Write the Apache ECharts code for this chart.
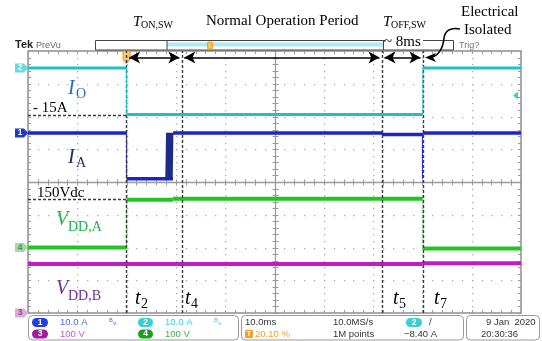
<!DOCTYPE html>
<html><head><meta charset="utf-8">
<script src="https://cdn.jsdelivr.net/npm/echarts@6/dist/echarts.min.js"></script>
<style>html,body{margin:0;padding:0;background:#fff}#c{width:542px;height:341px}</style>
</head><body><div id="c"></div>
<script>
// ---------------- DATA ----------------
// time axis in ms (10 ms/div, trigger at 20.10 % of record -> t = 0)
const timeTicks = [-20, -10, 0, 10, 20, 30, 40, 50, 60, 70, 80];
const divTicks = [-4, -3, -2, -1, 0, 1, 2, 3, 4];
// event instants (ms)
const eventNames = ['t2', 't4', 't5', 't7'];
const eventTimes = [0, 11.2, 51.8, 60.1];
// Channel 2: I_O (A) - level changes at edges
const ioEdges = [0, 60.1];
const ioLevels = [0, -14.2, 0];
// Channel 1: I_A (A)
const iaEdges = [0, 9.4, 51.8, 60.1];
const iaLevels = [0, -14.0, 0, -0.5, 0];
const iaRingTimes = [8.0, 8.15, 8.3, 8.45, 8.6, 8.75, 8.9, 9.05, 9.2, 9.35];
const iaRingValues = [-14, 0, -14, 0, -14, 0, -14, 0, -14, 0];
const iaSpikeTimes = [60.0];
const iaSpikeValues = [-14];
// Channel 4: V_DD,A (V)
const vdaEdges = [0, 9.4, 60.1];
const vdaLevels = [0, 146, 149, -3];
// Channel 3: V_DD,B (V)
const vdbEdges = [60.1];
const vdbLevels = [150, 152];
// reference levels marked with dashed lines
const ioRefLevel = -14.5;   // "- 15A"
const vdaRefLevel = 146;    // "150Vdc"

// ---------------- scope settings ----------------
const SCALE = {ch1: 10, ch2: 10, ch3: 100, ch4: 100};   // units / div
const GROUND = {ch1: 1.5, ch2: 3.48, ch3: -4, ch4: -2}; // div
const X0 = timeTicks[0], X1 = timeTicks[timeTicks.length - 1];
function dv(ch, v) { return GROUND[ch] + v / SCALE[ch]; }
function horiz(ch, edges, levels) {
  const out = [];
  for (let i = 0; i < levels.length; i++) {
    const a = i === 0 ? X0 : edges[i - 1];
    const b = i === edges.length ? X1 : edges[i];
    out.push({coords: [[a, dv(ch, levels[i])], [b, dv(ch, levels[i])]]});
  }
  return out;
}
function verts(ch, edges, levels) {
  return edges.map((t, i) => ({coords: [[t, dv(ch, levels[i])], [t, dv(ch, levels[i + 1])]]}));
}

const C_CYAN = '#1fc0c6', C_BLUE = '#1a24c8', C_GREEN = '#22c422', C_MAG = '#c01cc0';

function traceSeries(data, color, w, z) {
  return {type: 'lines', coordinateSystem: 'cartesian2d', polyline: true, silent: true, z: z || 3,
    lineStyle: {color: color, width: w, opacity: 1}, data: data, animation: false};
}

const chart = echarts.init(document.getElementById('c'));

const dash = {color: '#3a3a3a', width: 1.4, type: [3, 2]};
const markLines = [];
eventTimes.forEach(t => markLines.push({xAxis: t, lineStyle: dash}));
markLines.push([{coord: [X0, dv('ch2', ioRefLevel)], lineStyle: dash}, {coord: [eventTimes[0], dv('ch2', ioRefLevel)]}]);
markLines.push([{coord: [X0, dv('ch4', vdaRefLevel)], lineStyle: dash}, {coord: [eventTimes[0], dv('ch4', vdaRefLevel)]}]);
const arrowY = 3.8;
const arrowStyle = {color: '#000', width: 1.5, type: 'solid'};
[[eventTimes[0], eventTimes[1]], [eventTimes[1], eventTimes[2]], [eventTimes[2], eventTimes[3]]].forEach(p => {
  markLines.push([{coord: [p[0] + 0.5, arrowY], lineStyle: arrowStyle, symbol: 'arrow'}, {coord: [p[1] - 0.5, arrowY], symbol: 'arrow'}]);
});

const serifI = 'italic 20px "Liberation Serif", "DejaVu Serif", serif';
const serifSub = '14px "Liberation Serif", "DejaVu Serif", serif';
const serif15 = '15px "Liberation Serif", "DejaVu Serif", serif';
const serifT = 'italic 15px "Liberation Serif", serif';
const serifSub10 = '10px "Liberation Serif", serif';
const ui = '9.5px "Liberation Sans", "DejaVu Sans", sans-serif';

function txt(x, y, s, font, fill, align) {
  return {type: 'text', x: x, y: y, z: 20, silent: true,
    style: {text: s, font: font, fill: fill, align: align || 'left', verticalAlign: 'middle',
      textAlign: align || 'left', textVerticalAlign: 'middle'}};
}
function pill(x, y, w, fill, s) {
  return [{type: 'rect', z: 20, silent: true, shape: {x: x, y: y - 4.5, width: w, height: 9, r: 4.5}, style: {fill: fill}},
    txt(x + w / 2, y, s, 'bold 8.5px "Liberation Sans", sans-serif', '#fff', 'center')];
}
function box(x, y, w, h) {
  return {type: 'rect', z: 19, silent: true, shape: {x: x, y: y, width: w, height: h, r: 4}, style: {fill: '#fff', stroke: '#9a9a9a', lineWidth: 1}};
}
function bez(x1, y1, c1x, c1y, c2x, c2y, x2, y2) {
  return {type: 'bezierCurve', z: 20, silent: true,
    shape: {x1: x1, y1: y1, cpx1: c1x, cpy1: c1y, cpx2: c2x, cpy2: c2y, x2: x2, y2: y2},
    style: {fill: null, stroke: '#000', lineWidth: 1.6}};
}

const graphics = [
  // top bar
  txt(15, 45, 'Tek', 'bold 11px "Liberation Sans", sans-serif', '#222'),
  txt(36, 45.5, 'PreVu', '9px "Liberation Sans", sans-serif', '#666'),
  {type: 'rect', z: 10, silent: true, shape: {x: 95.5, y: 40.5, width: 358, height: 9.5}, style: {fill: '#fff', stroke: '#444', lineWidth: 1}},
  {type: 'rect', z: 11, silent: true, shape: {x: 167, y: 42.5, width: 216, height: 4}, style: {fill: '#aeeaee'}},
  {type: 'line', z: 12, silent: true, shape: {x1: 167, y1: 40.5, x2: 167, y2: 50}, style: {stroke: '#444', lineWidth: 1}},
  {type: 'line', z: 12, silent: true, shape: {x1: 383.5, y1: 40.5, x2: 383.5, y2: 50}, style: {stroke: '#444', lineWidth: 1}},
  {type: 'rect', z: 12, silent: true, shape: {x: 207.5, y: 42, width: 5, height: 7, r: 1}, style: {fill: '#f7c060', stroke: '#f0a020', lineWidth: 1}},
  {type: 'rect', z: 13, silent: true, shape: {x: 385, y: 36, width: 38, height: 11}, style: {fill: '#fff'}},
  txt(459, 45.5, 'Trig?', '9px "Liberation Sans", sans-serif', '#777'),
  // annotations (serif)
  txt(133, 22, 'T', serifT, '#000'),
  txt(141, 25, 'ON,SW', serifSub10, '#000'),
  txt(206, 21, 'Normal Operation Period', serif15, '#000'),
  txt(383, 22, 'T', serifT, '#000'),
  txt(391, 25, 'OFF,SW', serifSub10, '#000'),
  txt(384, 42, '~ 8ms', serif15, '#000'),
  txt(461, 12, 'Electrical', serif15, '#000'),
  txt(464, 30, 'Isolated', serif15, '#000'),
  bez(460, 29, 450, 27, 445, 31, 444, 38),
  bez(444, 38, 443, 48, 440, 55, 431, 57.5),
  {type: 'polygon', z: 20, silent: true, shape: {points: [[425, 57.5], [436, 53], [433, 57.5], [436, 62]]}, style: {fill: '#000'}},
  txt(33, 108, '- 15A', serif15, '#000'),
  txt(37, 193, '150Vdc', serif15, '#000'),
  // trace labels
  txt(68, 89, 'I', serifI, '#1f6fc0'),
  txt(76, 94, 'O', serifSub, '#1f6fc0'),
  txt(68, 158, 'I', serifI, '#1f2a66'),
  txt(76, 163, 'A', serifSub, '#1f2a66'),
  txt(56, 220, 'V', serifI, '#20b050'),
  txt(68, 227, 'DD,A', serifSub, '#20b050'),
  txt(56, 289, 'V', serifI, '#7030a0'),
  txt(68, 296, 'DD,B', serifSub, '#7030a0'),
  txt(135, 299, 't', serifI, '#000'), txt(141, 304, '2', serifSub, '#000'),
  txt(185, 299, 't', serifI, '#000'), txt(191, 304, '4', serifSub, '#000'),
  txt(393, 299, 't', serifI, '#000'), txt(399, 304, '5', serifSub, '#000'),
  txt(434, 299, 't', serifI, '#000'), txt(440, 304, '7', serifSub, '#000'),
  // bottom info panel
  box(28.5, 315.5, 210, 24.5),
  box(241.5, 315.5, 222, 24.5),
  box(466.5, 315.5, 73, 24.5),
  ...pill(32, 322.5, 16, '#1e3ee6', '1'),
  txt(60, 322.5, '10.0 A', ui, '#5564f2'),
  txt(109, 322.5, 'ᴮᵥ', '9px "DejaVu Sans", sans-serif', '#5564f2'),
  ...pill(138, 322.5, 15, '#3ccdd4', '2'),
  txt(165, 322.5, '10.0 A', ui, '#3ccdd4'),
  txt(214, 322.5, 'ᴮᵥ', '9px "DejaVu Sans", sans-serif', '#3ccdd4'),
  ...pill(32, 334, 16, '#a01ca0', '3'),
  txt(60, 334, '100 V', ui, '#c45ad0'),
  ...pill(138, 334, 15, '#1ea01e', '4'),
  txt(165, 334, '100 V', ui, '#45b045'),
  txt(245, 322.5, '10.0ms', ui, '#333'),
  {type: 'rect', z: 20, silent: true, shape: {x: 245, y: 330, width: 8, height: 8, r: 1}, style: {fill: '#f5a020'}},
  txt(249, 334, 'T', 'bold 7px "Liberation Sans", sans-serif', '#fff', 'center'),
  txt(255, 334, '20.10 %', ui, '#f5a020'),
  txt(333, 322.5, '10.0MS/s', ui, '#333'),
  txt(333, 334, '1M points', ui, '#333'),
  ...pill(406, 322.5, 16, '#3ccdd4', '2'),
  txt(429, 322.5, '/', ui, '#333'),
  txt(404, 334, '−8.40 A', ui, '#333'),
  txt(486, 322.5, '9 Jan  2020', ui, '#333'),
  txt(481, 334, '20:30:36', ui, '#333')
];

const option = {
  animation: false,
  backgroundColor: '#fff',
  grid: {left: 28, top: 51, width: 493, height: 262, show: true, borderColor: '#8e8e8e', borderWidth: 1.5, backgroundColor: 'transparent'},
  xAxis: {type: 'value', min: X0, max: X1, interval: 10,
    axisLabel: {show: false}, axisTick: {show: false}, axisLine: {show: false}, splitLine: {show: false}},
  yAxis: {type: 'value', min: divTicks[0], max: divTicks[divTicks.length - 1], interval: 1,
    axisLabel: {show: false}, axisTick: {show: false}, axisLine: {show: false}, splitLine: {show: false}},
  graphic: graphics,
  series: [
    {type: 'custom', coordinateSystem: 'cartesian2d', z: 1, silent: true, clip: false, data: [[0, 0]],
      renderItem: function (params, api) {
        const ch = [];
        const c = (x, y) => api.coord([x, y]);
        const cy = Math.round(c(0, 0)[1]) + 0.5, cx = Math.round(c((X0 + X1) / 2, 0)[0]) + 0.5;
        const L = c(X0, 0)[0], R = c(X1, 0)[0], T = c(0, 4)[1], B = c(0, -4)[1];
        const st = {stroke: '#9a9a9a', lineWidth: 1};
        const ln = (x1, y1, x2, y2, s) => ch.push({type: 'line', shape: {x1, y1, x2, y2}, style: s || st});
        const dotStyle = {fill: '#ababab'};
        // dotted graticule
        timeTicks.forEach(t => {
          if (t === X0 || t === X1 || t === (X0 + X1) / 2) return;
          const x = Math.round(c(t, 0)[0]);
          for (let k = 1; k < 40; k++) {
            const y = Math.round(c(0, -4 + 0.2 * k)[1]);
            ch.push({type: 'rect', shape: {x: x, y: y, width: 1.3, height: 1.3}, style: dotStyle});
          }
        });
        divTicks.forEach(v => {
          if (v === divTicks[0] || v === divTicks[divTicks.length - 1] || v === 0) return;
          const y = Math.round(c(0, v)[1]);
          for (let k = 1; k < 50; k++) {
            const x = Math.round(c(X0 + 2 * k, 0)[0]);
            ch.push({type: 'rect', shape: {x: x, y: y, width: 1.3, height: 1.3}, style: dotStyle});
          }
        });
        ln(L, cy, R, cy, {stroke: '#9a9a9a', lineWidth: 1.3});
        ln(cx, T, cx, B, {stroke: '#9a9a9a', lineWidth: 1.3});
        for (let k = 0; k <= 50; k++) {
          const x = Math.round(c(X0 + 2 * k, 0)[0]) + 0.5;
          ln(x, cy - 3, x, cy + 3); ln(x, T, x, T + 3); ln(x, B - 3, x, B);
        }
        for (let k = 0; k <= 40; k++) {
          const y = Math.round(c(0, -4 + 0.2 * k)[1]) + 0.5;
          ln(cx - 3, y, cx + 3, y); ln(L, y, L + 3, y); ln(R - 3, y, R, y);
        }
        // channel ground tags
        const tag = (g, fill, s, tc) => {
          const y = c(0, g)[1], x0 = 15;
          ch.push({type: 'polygon', shape: {points: [[x0, y - 4.5], [x0 + 9, y - 4.5], [x0 + 13, y], [x0 + 9, y + 4.5], [x0, y + 4.5]]}, style: {fill: fill}});
          ch.push({type: 'text', x: x0 + 5, y: y, style: {text: s, font: 'bold 8.5px "Liberation Sans", sans-serif', fill: tc, align: 'center', verticalAlign: 'middle'}});
        };
        tag(GROUND.ch2, '#6fd6da', '2', '#ffffff');
        tag(GROUND.ch1, '#2438c8', '1', '#ffffff');
        tag(GROUND.ch4, '#a4d8a4', '4', '#5a8a5a');
        tag(GROUND.ch3, '#d8aad6', '3', '#7a5a7a');
        // trigger position marker (top)
        const tx = c(eventTimes[0], 0)[0];
        ch.push({type: 'polygon', shape: {points: [[tx - 3.5, T], [tx + 3.5, T], [tx + 3.5, T + 8], [tx, T + 12], [tx - 3.5, T + 8]]}, style: {fill: '#f9c878', stroke: '#f0a020', lineWidth: 1.2}});
        // trigger level marker (right, ch2 at -8.40 A)
        const ty = c(0, dv('ch2', -8.4))[1];
        ch.push({type: 'polygon', shape: {points: [[R - 8, ty], [R - 3, ty - 4], [R - 3, ty + 4]]}, style: {fill: '#3ccdd4'}});
        return {type: 'group', children: ch};
      }
    },
    traceSeries(horiz('ch3', vdbEdges, vdbLevels), C_MAG, 4, 3),
    traceSeries(verts('ch3', vdbEdges, vdbLevels), C_MAG, 1, 3),
    traceSeries(horiz('ch4', vdaEdges, vdaLevels), C_GREEN, 4, 3),
    traceSeries(verts('ch4', vdaEdges, vdaLevels), '#7ad87a', 1, 3),
    traceSeries(horiz('ch1', iaEdges, iaLevels), C_BLUE, 3.5, 4),
    traceSeries(verts('ch1', iaEdges, iaLevels).filter((d, i) => i !== 1 && i !== 3), C_BLUE, 1, 4),
    traceSeries([{coords: iaRingTimes.map((t, i) => [t, dv('ch1', iaRingValues[i])])}], '#1c2a88', 1.5, 4),
    traceSeries(iaSpikeTimes.map((t, i) => ({coords: [[t, dv('ch1', iaLevels[3])], [t, dv('ch1', iaSpikeValues[i])]]})), C_BLUE, 1, 4),
    traceSeries(horiz('ch2', ioEdges, ioLevels), C_CYAN, 3, 5),
    traceSeries(verts('ch2', ioEdges, ioLevels), C_CYAN, 1, 5),
    {type: 'line', data: [], z: 8, silent: true,
      markLine: {silent: true, symbol: ['none', 'none'], symbolSize: [9, 11], label: {show: false}, animation: false, data: markLines}}
  ]
};
chart.setOption(option);
</script>
</body></html>
